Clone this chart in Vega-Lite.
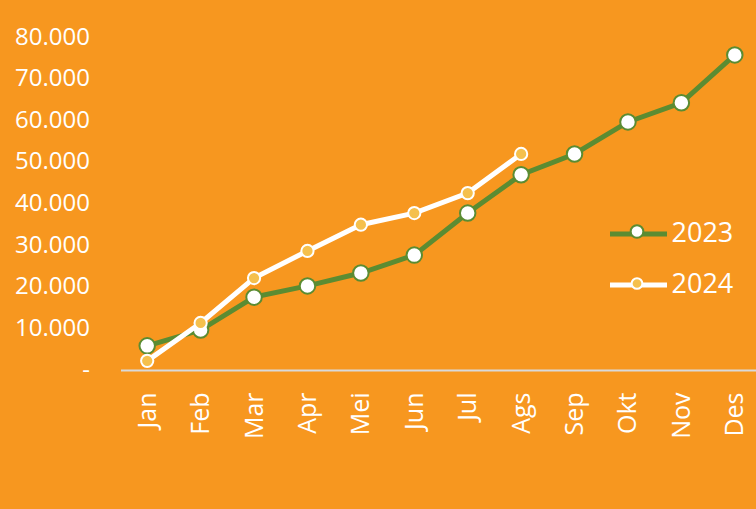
{
  "$schema": "https://vega.github.io/schema/vega-lite/v6.json",
  "width": 641,
  "height": 333,
  "autosize": {"type": "none"},
  "padding": {"left": 120.5, "top": 37, "right": 0, "bottom": 139},
  "background": "#F7971F",
  "config": {"view": {"stroke": null}, "font": "Open Sans"},
  "data": {
    "values": [
      {"month": "Jan", "year": "2023", "value": 5800},
      {"month": "Feb", "year": "2023", "value": 9600},
      {"month": "Mar", "year": "2023", "value": 17500},
      {"month": "Apr", "year": "2023", "value": 20200},
      {"month": "Mei", "year": "2023", "value": 23300},
      {"month": "Jun", "year": "2023", "value": 27600},
      {"month": "Jul", "year": "2023", "value": 37700},
      {"month": "Ags", "year": "2023", "value": 46900},
      {"month": "Sep", "year": "2023", "value": 51900},
      {"month": "Okt", "year": "2023", "value": 59600},
      {"month": "Nov", "year": "2023", "value": 64200},
      {"month": "Des", "year": "2023", "value": 75700},
      {"month": "Jan", "year": "2024", "value": 2200},
      {"month": "Feb", "year": "2024", "value": 11300},
      {"month": "Mar", "year": "2024", "value": 22100},
      {"month": "Apr", "year": "2024", "value": 28600},
      {"month": "Mei", "year": "2024", "value": 34900},
      {"month": "Jun", "year": "2024", "value": 37700},
      {"month": "Jul", "year": "2024", "value": 42500},
      {"month": "Ags", "year": "2024", "value": 51900}
    ]
  },
  "encoding": {
    "x": {
      "field": "month",
      "type": "ordinal",
      "sort": ["Jan", "Feb", "Mar", "Apr", "Mei", "Jun", "Jul", "Ags", "Sep", "Okt", "Nov", "Des"],
      "scale": {"type": "point", "padding": 0.5},
      "axis": {
        "title": null,
        "labelAngle": -90,
        "labelColor": "#FFFFFF",
        "labelFontSize": 25,
        "labelFont": "Open Sans",
        "ticks": false,
        "grid": false,
        "domainColor": "#D9D9D9",
        "domainWidth": 2,
        "labelPadding": 22
      }
    },
    "y": {
      "field": "value",
      "type": "quantitative",
      "scale": {"domain": [0, 80000], "nice": false},
      "axis": {
        "title": null,
        "values": [0, 10000, 20000, 30000, 40000, 50000, 60000, 70000, 80000],
        "labelExpr": "datum.value == 0 ? '-' : format(datum.value / 1000, 'd') + '.000'",
        "labelColor": "#FFFFFF",
        "labelFontSize": 24,
        "labelFont": "Open Sans",
        "ticks": false,
        "domain": false,
        "grid": false,
        "labelPadding": 31
      }
    }
  },
  "layer": [
    {
      "transform": [{"filter": "datum.year == '2023'"}],
      "mark": {"type": "line", "strokeWidth": 5},
      "encoding": {
        "stroke": {
          "field": "year",
          "type": "nominal",
          "scale": {"range": ["#5B8C32", "#FFFFFF"]},
          "legend": {
            "orient": "none",
            "legendX": 487,
            "legendY": 166,
            "title": null,
            "symbolType": "stroke",
            "symbolSize": 3249,
            "symbolStrokeWidth": 5,
            "symbolOpacity": 1,
            "labelColor": "#FFFFFF",
            "labelFontSize": 27,
            "labelFont": "Open Sans",
            "labelOffset": 2,
            "rowPadding": 7
          }
        }
      }
    },
    {
      "transform": [{"filter": "datum.year == '2023'"}],
      "mark": {"type": "point", "filled": true, "opacity": 1, "strokeWidth": 2},
      "encoding": {
        "fill": {
          "field": "year",
          "type": "nominal",
          "scale": {"domain": ["2023", "2024"], "range": ["#FFFFFF", "#F5C04D"]},
          "legend": {
            "orient": "none",
            "legendX": 503,
            "legendY": 181,
            "title": null,
            "symbolType": "circle",
            "symbolSize": 160,
            "symbolStrokeWidth": 2,
            "symbolOpacity": 1,
            "labelExpr": "''",
            "labelFontSize": 27,
            "rowPadding": 24,
            "encode": {
              "symbols": {
                "update": {
                  "stroke": {"signal": "datum.value == '2023' ? '#5B8C32' : '#FFFFFF'"},
                  "size": {"signal": "datum.value == '2023' ? 160 : 115"}
                }
              }
            }
          }
        },
        "stroke": {"field": "year", "type": "nominal", "legend": null},
        "size": {"value": 240}
      }
    },
    {
      "transform": [{"filter": "datum.year == '2024'"}],
      "mark": {"type": "line", "strokeWidth": 5},
      "encoding": {
        "stroke": {"field": "year", "type": "nominal"}
      }
    },
    {
      "transform": [{"filter": "datum.year == '2024'"}],
      "mark": {"type": "point", "filled": true, "opacity": 1, "strokeWidth": 2},
      "encoding": {
        "fill": {"field": "year", "type": "nominal"},
        "stroke": {"field": "year", "type": "nominal", "legend": null},
        "size": {"value": 150}
      }
    }
  ]
}
